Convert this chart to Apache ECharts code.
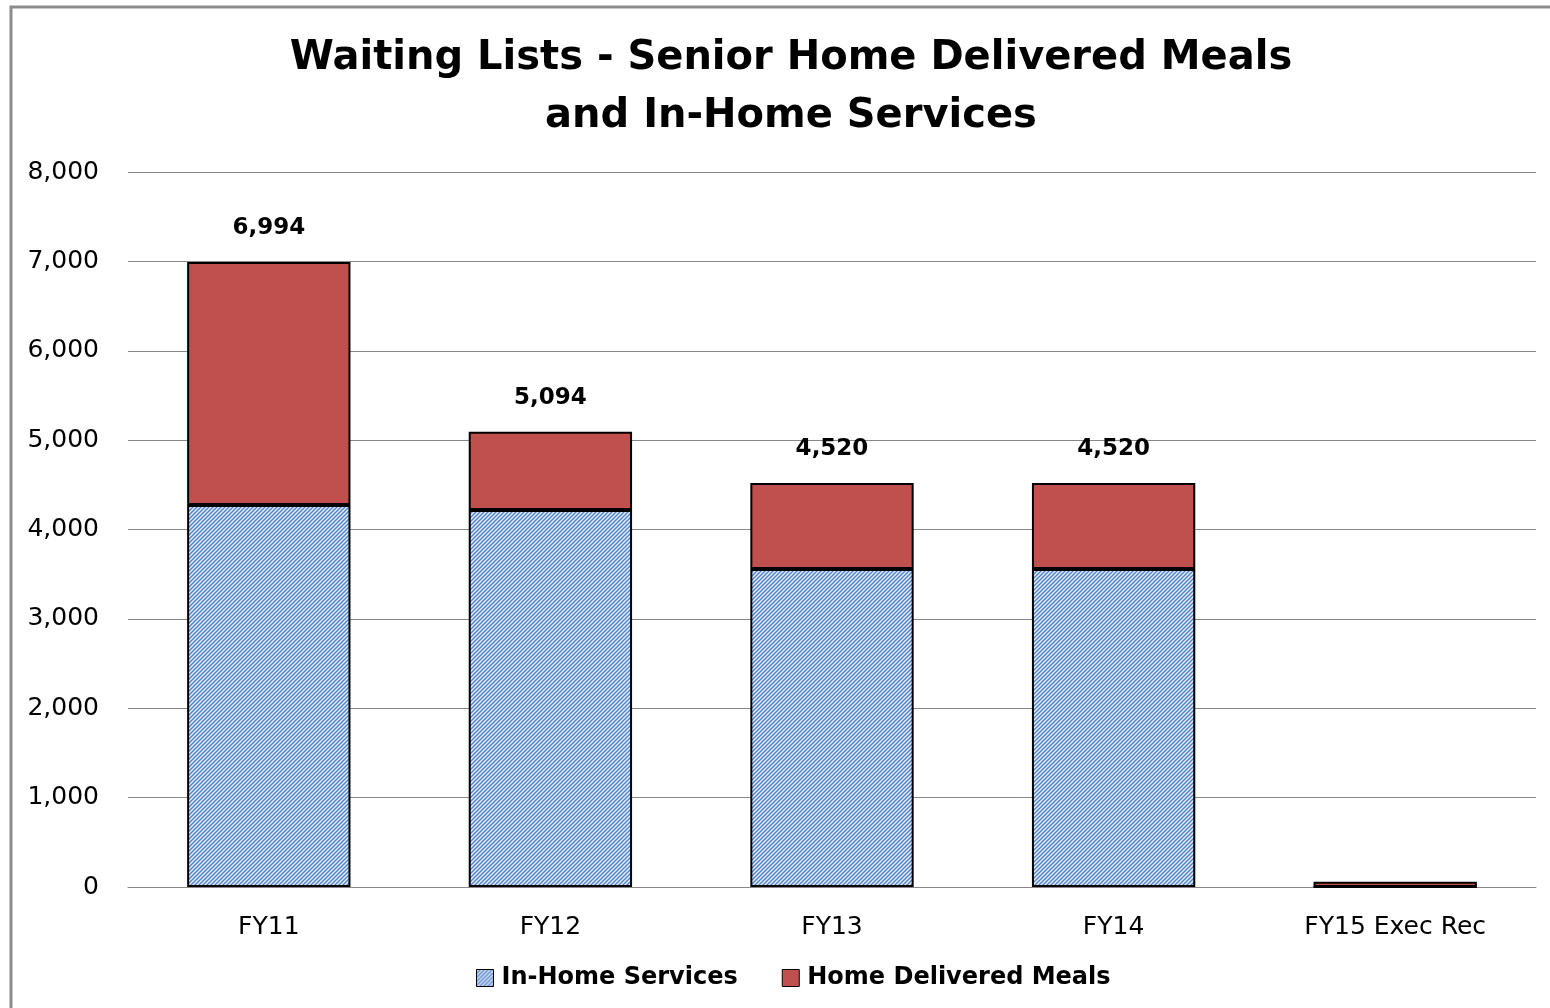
<!DOCTYPE html>
<html>
<head>
<meta charset="utf-8">
<script src="https://cdn.jsdelivr.net/npm/echarts@6/dist/echarts.min.js"></script>
<style>
  html, body { margin: 0; padding: 0; background: #fff; }
  #chart { width: 1550px; height: 1008px; }
</style>
</head>
<body>
<div id="chart"></div>
<script>
const categories = ['FY11', 'FY12', 'FY13', 'FY14', 'FY15 Exec Rec'];
const inHomeServices = [4273, 4217, 3557, 3557, 0];
const homeDeliveredMeals = [2721, 877, 963, 963, 60];
const totalLabels = ['6,994', '5,094', '4,520', '4,520', ''];
const yTicks = [0, 1000, 2000, 3000, 4000, 5000, 6000, 7000, 8000];

// blue diagonal hatch like the Excel pattern fill
function hatch() {
  const c = document.createElement('canvas');
  c.width = 4; c.height = 4;
  const ctx = c.getContext('2d');
  ctx.fillStyle = '#edf2fa';
  ctx.fillRect(0, 0, 4, 4);
  ctx.strokeStyle = '#4f83cc';
  ctx.lineWidth = 1.5;
  ctx.beginPath();
  ctx.moveTo(-1, 5); ctx.lineTo(5, -1);
  ctx.moveTo(-1, 1); ctx.lineTo(1, -1);
  ctx.moveTo(3, 5); ctx.lineTo(5, 3);
  ctx.stroke();
  return c;
}
const hatchFill = { image: hatch(), repeat: 'repeat' };

const font = 'Tahoma, "DejaVu Sans", Verdana, sans-serif';
const chart = echarts.init(document.getElementById('chart'));
chart.setOption({
  animation: false,
  textStyle: { fontFamily: font },
  title: {
    text: 'Waiting Lists - Senior Home Delivered Meals\nand In-Home Services',
    left: 786,
    textAlign: 'center',
    top: 25,
    textStyle: { fontSize: 40, fontWeight: 'bold', color: '#000', lineHeight: 58, fontFamily: font }
  },
  graphic: [{
    type: 'rect',
    shape: { x: 11, y: 7, width: 1560, height: 1020 },
    style: { fill: 'none', stroke: '#8c8c8c', lineWidth: 3 },
    silent: true
  }],
  legend: {
    bottom: 13,
    left: 471,
    itemGap: 44,
    itemWidth: 17,
    itemHeight: 17,
    icon: 'rect',
    textStyle: { fontSize: 24, fontWeight: 'bold', color: '#000', fontFamily: font, padding: [0, 0, 0, 3] },
    data: [
      { name: 'In-Home Services', itemStyle: { color: hatchFill, borderColor: '#000', borderWidth: 1 } },
      { name: 'Home Delivered Meals', itemStyle: { color: '#c0504d', borderColor: '#000', borderWidth: 1 } }
    ]
  },
  grid: { left: 128, right: 14, top: 172, bottom: 121 },
  xAxis: {
    type: 'category',
    data: categories,
    axisLine: { lineStyle: { color: '#888', width: 1 } },
    axisTick: { show: false },
    axisLabel: { fontSize: 25, color: '#000', margin: 28 }
  },
  yAxis: {
    type: 'value',
    min: yTicks[0],
    max: yTicks[yTicks.length - 1],
    interval: 1000,
    axisLine: { show: false },
    axisTick: { show: false },
    splitLine: { lineStyle: { color: '#888', width: 1 } },
    axisLabel: { fontSize: 25, color: '#000', margin: 29, formatter: v => v.toLocaleString('en-US') }
  },
  series: [
    {
      name: 'In-Home Services',
      type: 'bar',
      stack: 'total',
      barWidth: '58%',
      data: inHomeServices,
      itemStyle: { color: hatchFill, borderColor: '#000', borderWidth: 2 }
    },
    {
      name: 'Home Delivered Meals',
      type: 'bar',
      stack: 'total',
      barWidth: '58%',
      data: homeDeliveredMeals,
      itemStyle: { color: '#c0504d', borderColor: '#000', borderWidth: 2 },
      label: {
        show: true,
        position: 'top',
        distance: 22,
        fontSize: 23,
        fontWeight: 'bold',
        color: '#000',
        formatter: p => totalLabels[p.dataIndex]
      }
    }
  ]
});
</script>
</body>
</html>
